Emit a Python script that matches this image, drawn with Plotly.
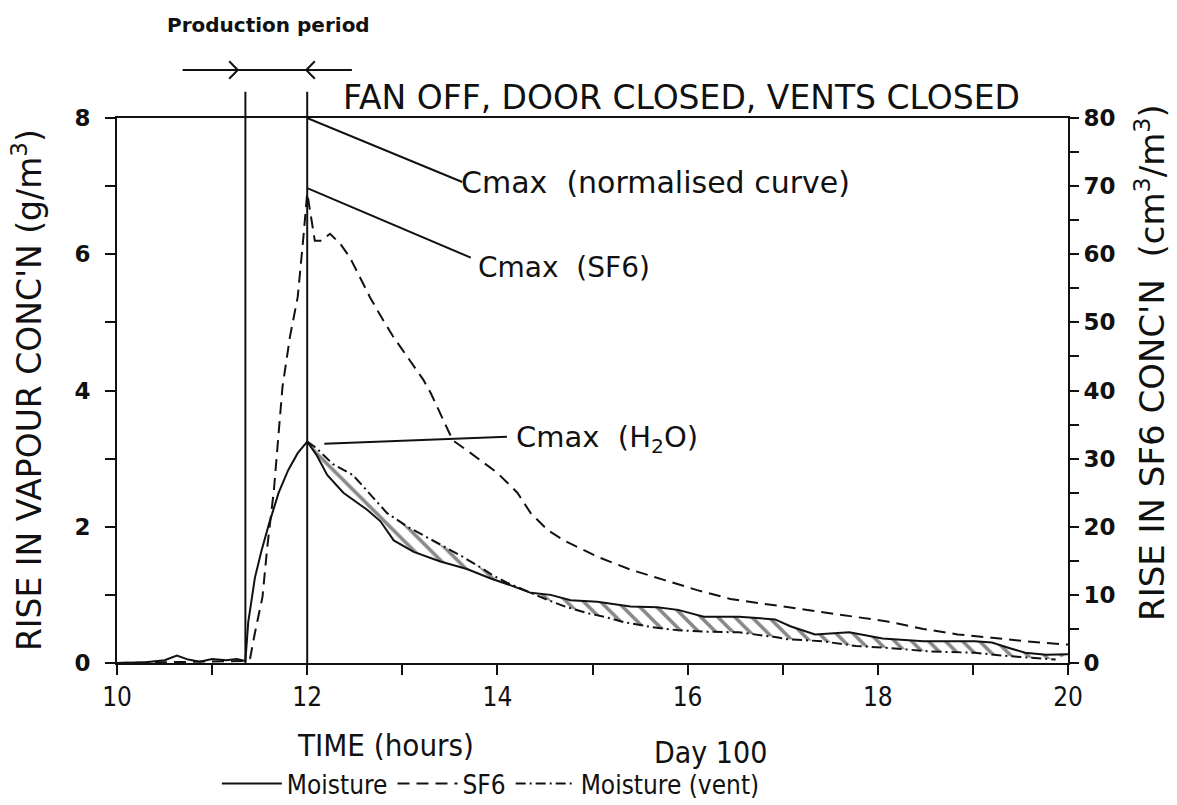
import plotly.graph_objects as go

# ---------------- data ----------------
moisture_hours = [10.0, 10.3, 10.5, 10.63, 10.75, 10.87, 11.0, 11.15, 11.26, 11.35, 11.38,
                  11.45, 11.52, 11.6, 11.7, 11.8, 11.9, 12.0, 12.1, 12.21, 12.38, 12.63,
                  12.77, 12.91, 13.12, 13.4, 13.68, 13.93, 14.14, 14.35, 14.56, 14.77,
                  15.05, 15.4, 15.68, 15.9, 16.17, 16.54, 16.92, 17.08, 17.34, 17.7,
                  18.05, 18.48, 19.02, 19.2, 19.38, 19.55, 19.77, 20.0]
moisture_values = [0.0, 0.01, 0.04, 0.11, 0.05, 0.02, 0.06, 0.04, 0.06, 0.03, 0.6,
                   1.25, 1.65, 2.05, 2.5, 2.83, 3.08, 3.25, 3.05, 2.76, 2.5, 2.25,
                   2.08, 1.8, 1.63, 1.49, 1.38, 1.24, 1.14, 1.03, 1.0, 0.92,
                   0.9, 0.83, 0.82, 0.78, 0.68, 0.68, 0.64, 0.54, 0.42, 0.45,
                   0.36, 0.32, 0.32, 0.30, 0.22, 0.15, 0.12, 0.13]

vent_hours = [12.0, 12.1, 12.27, 12.48, 12.66, 12.84, 13.08, 13.33, 13.61, 13.85, 13.96,
              14.1, 14.3, 14.52, 14.73, 14.95, 15.12, 15.33, 15.61, 15.9, 16.17, 16.54,
              16.92, 17.05, 17.41, 17.77, 18.12, 18.55, 19.02, 19.38, 19.87]
vent_values = [3.25, 3.15, 2.92, 2.76, 2.48, 2.2, 1.98, 1.79, 1.58, 1.38, 1.28,
               1.18, 1.06, 0.93, 0.82, 0.73, 0.68, 0.6, 0.53, 0.48, 0.46, 0.45,
               0.38, 0.35, 0.32, 0.25, 0.22, 0.17, 0.15, 0.1, 0.05]

sf6_hours = [10.0, 11.35, 11.4, 11.45, 11.53, 11.58, 11.65, 11.74, 11.82, 11.9, 11.96,
             12.0, 12.08, 12.15, 12.24, 12.35, 12.45, 12.56, 12.66, 12.77, 12.9, 13.0,
             13.1, 13.22, 13.3, 13.43, 13.53, 13.72, 14.0, 14.21, 14.35, 14.53, 14.7,
             15.05, 15.4, 15.75, 16.1, 16.45, 16.9, 17.3, 17.7, 18.1, 18.48, 18.84,
             19.2, 19.55, 20.0]
sf6_values = [0, 0.3, 0.7, 4.4, 9.7, 17, 25.4, 40.5, 48, 53.7, 62.5,
              69, 62, 62, 63, 61.5, 59.5, 56.5, 53.7, 51, 48, 46,
              44, 41.6, 39.6, 35.7, 32.7, 30.8, 27.9, 25, 22, 19.5, 18,
              15.6, 13.7, 12.2, 10.7, 9.4, 8.5, 7.8, 6.9, 6.1, 5.0, 4.2,
              3.7, 3.2, 2.7]

x_tick_values = [10, 11, 12, 13, 14, 15, 16, 17, 18, 19, 20]
x_tick_labels = ["10", "", "12", "", "14", "", "16", "", "18", "", "20"]
y_tick_values = [0, 1, 2, 3, 4, 5, 6, 7, 8]
y_tick_labels = ["0", "", "2", "", "4", "", "6", "", "8"]
y2_tick_values = [0, 5, 10, 15, 20, 25, 30, 35, 40, 45, 50, 55, 60, 65, 70, 75, 80]
y2_tick_labels = ["0", "", "10", "", "20", "", "30", "", "40", "", "50", "", "60", "", "70", "", "80"]

production_start = 11.35
production_end = 12.0
production_arrow_span = (10.69, 12.47)

# Cmax leader lines: (x0, y0, x1, y1) in hours / g m-3, and label text
cmax_lines = [(12.0, 8.0, 13.63, 7.06), (12.0, 6.97, 13.72, 5.95), (12.18, 3.22, 14.1, 3.32)]
cmax_texts = ["Cmax  (normalised curve)", "Cmax  (SF6)", "Cmax  (H<sub>2</sub>O)"]
cmax_text_pos = [(13.6, 7.05), (13.77, 5.81), (14.17, 3.29)]
cmax_text_sizes = [30, 28, 29]

# ---------------- figure ----------------
BLACK = "#111111"
MAIN_FONT = "DejaVu Sans, Open Sans, sans-serif"
NARROW_FONT = "Liberation Sans Narrow, DejaVu Sans Condensed, DejaVu Sans, sans-serif"

fig = go.Figure()

# hatched band between moisture and moisture (vent) after the production period
m_after_x = [h for h in moisture_hours if h >= production_end]
m_after_y = [v for h, v in zip(moisture_hours, moisture_values) if h >= production_end]
fig.add_trace(go.Scatter(x=m_after_x, y=m_after_y, mode="lines", line=dict(width=0),
                         showlegend=False, hoverinfo="skip"))
fig.add_trace(go.Scatter(x=vent_hours, y=vent_values, mode="lines", line=dict(width=0),
                         fill="tonexty", fillcolor="rgba(0,0,0,0)",
                         fillpattern=dict(shape="\\", fgcolor=BLACK, bgcolor="rgba(0,0,0,0)",
                                          size=12, solidity=0.3),
                         showlegend=False, hoverinfo="skip"))

fig.add_trace(go.Scatter(x=moisture_hours, y=moisture_values, mode="lines", name="Moisture",
                         line=dict(color=BLACK, width=2)))
fig.add_trace(go.Scatter(x=sf6_hours, y=sf6_values, mode="lines", name="SF6", yaxis="y2",
                         line=dict(color=BLACK, width=2, dash="12px,7px")))
fig.add_trace(go.Scatter(x=vent_hours, y=vent_values, mode="lines", name="Moisture (vent)",
                         line=dict(color=BLACK, width=2, dash="10px,4px,2px,4px")))

ARROW_Y = 1.088  # paper units, above the plot
shapes = []
for xv in (production_start, production_end):
    shapes.append(dict(type="line", xref="x", yref="paper", x0=xv, x1=xv, y0=0, y1=1.048,
                       line=dict(color=BLACK, width=2)))
# production-period arrow line and its two chevrons
shapes.append(dict(type="line", xref="x", yref="paper", x0=production_arrow_span[0],
                   x1=production_arrow_span[1], y0=ARROW_Y, y1=ARROW_Y,
                   line=dict(color=BLACK, width=2)))
tip_r = production_start - 0.08
tip_l = production_end - 0.01
shapes.append(dict(type="path", xref="x", yref="paper",
                   path=f"M {tip_r-0.09},{ARROW_Y+0.016} L {tip_r},{ARROW_Y} L {tip_r-0.09},{ARROW_Y-0.016}",
                   line=dict(color=BLACK, width=2)))
shapes.append(dict(type="path", xref="x", yref="paper",
                   path=f"M {tip_l+0.09},{ARROW_Y+0.016} L {tip_l},{ARROW_Y} L {tip_l+0.09},{ARROW_Y-0.016}",
                   line=dict(color=BLACK, width=2)))
for (x0, y0, x1, y1) in cmax_lines:
    shapes.append(dict(type="line", xref="x", yref="y", x0=x0, y0=y0, x1=x1, y1=y1,
                       line=dict(color=BLACK, width=2)))

annotations = []
annotations.append(dict(x=11.59, y=1.171, xref="x", yref="paper", xanchor="center", yanchor="middle",
                        text="Production period", showarrow=False,
                        font=dict(family=MAIN_FONT, size=20, color=BLACK, weight="bold")))
annotations.append(dict(x=12.36, y=1.037, xref="x", yref="paper", xanchor="left", yanchor="middle",
                        text="FAN OFF, DOOR CLOSED, VENTS CLOSED", showarrow=False,
                        font=dict(family=MAIN_FONT, size=33, color=BLACK)))
for txt, (tx, ty), sz in zip(cmax_texts, cmax_text_pos, cmax_text_sizes):
    annotations.append(dict(x=tx, y=ty, xref="x", yref="y", xanchor="left", yanchor="middle",
                            text=txt, showarrow=False,
                            font=dict(family=MAIN_FONT, size=sz, color=BLACK)))
# axis titles
annotations.append(dict(x=-0.094, y=0.5, xref="paper", yref="paper", textangle=-90,
                        xanchor="center", yanchor="middle",
                        text="RISE IN VAPOUR CONC'N (g/m<sup>3</sup>)", showarrow=False,
                        font=dict(family=MAIN_FONT, size=33, color=BLACK)))
annotations.append(dict(x=1.086, y=0.552, xref="paper", yref="paper", textangle=-90,
                        xanchor="center", yanchor="middle",
                        text="RISE IN SF6 CONC'N  (cm<sup>3</sup>/m<sup>3</sup>)", showarrow=False,
                        font=dict(family=MAIN_FONT, size=34, color=BLACK)))
annotations.append(dict(x=0.187, y=-0.151, xref="paper", yref="paper", xanchor="left", yanchor="middle",
                        text="TIME (hours)", showarrow=False,
                        font=dict(family=NARROW_FONT, size=31, color=BLACK)))
annotations.append(dict(x=0.563, y=-0.164, xref="paper", yref="paper", xanchor="left", yanchor="middle",
                        text="Day 100", showarrow=False,
                        font=dict(family=NARROW_FONT, size=30, color=BLACK)))

fig.update_layout(
    width=1177, height=805,
    margin=dict(l=117, r=109, t=118, b=142, autoexpand=False),
    paper_bgcolor="white", plot_bgcolor="white",
    shapes=shapes, annotations=annotations,
    showlegend=True,
    legend=dict(orientation="h", x=0.105, y=-0.178, xanchor="left", yanchor="top",
                traceorder="normal", itemwidth=60,
                font=dict(family=NARROW_FONT, size=26, color=BLACK),
                bgcolor="rgba(0,0,0,0)", tracegroupgap=0),
    xaxis=dict(range=[10, 20], tickvals=x_tick_values, ticktext=x_tick_labels,
               showgrid=False, zeroline=False, showline=True, linecolor=BLACK, linewidth=2,
               mirror=True, ticks="outside", ticklen=10, tickwidth=2, tickcolor=BLACK,
               tickfont=dict(family=NARROW_FONT, size=26, color=BLACK)),
    yaxis=dict(range=[0, 8], tickvals=y_tick_values, ticktext=y_tick_labels,
               showgrid=False, zeroline=False, showline=True, linecolor=BLACK, linewidth=2,
               ticks="outside", ticklen=10, tickwidth=2, tickcolor=BLACK, ticklabelstandoff=10,
               tickfont=dict(family=MAIN_FONT, size=23, color=BLACK, weight="bold")),
    yaxis2=dict(range=[0, 80], overlaying="y", side="right", tickvals=y2_tick_values,
                ticktext=y2_tick_labels, showgrid=False, zeroline=False, showline=True,
                linecolor=BLACK, linewidth=2, ticks="outside", ticklen=9, tickwidth=2,
                tickcolor=BLACK,
                tickfont=dict(family=MAIN_FONT, size=23, color=BLACK, weight="bold")),
)

fig.write_html("out.html", config={"displayModeBar": False},
               post_script="document.body.style.margin='0';")
